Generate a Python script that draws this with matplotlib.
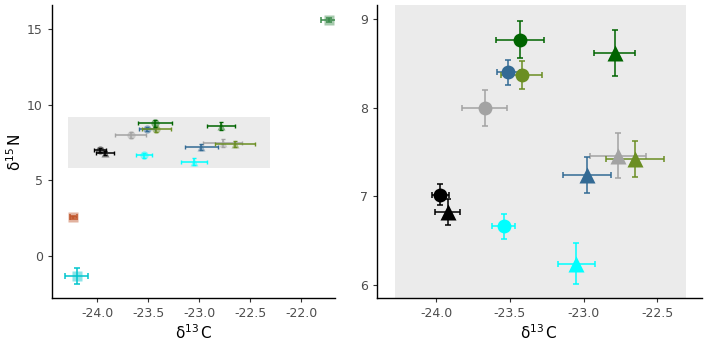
import matplotlib.pyplot as plt
from matplotlib.patches import Rectangle

# grupos de consumidores (circulo / triangulo)
grupos = ['negro_c', 'negro_t', 'cian_c', 'cian_t', 'gris_c', 'gris_t',
          'azul_c', 'azul_t', 'oliva_c', 'oliva_t', 'verde_c', 'verde_t']
colores = ['black', 'black', '#00FFFF', '#00FFFF', '#A3A3A3', '#A3A3A3',
           '#336A94', '#336A94', '#6B8E23', '#6B8E23', '#006400', '#006400']
marcas = ['o', '^', 'o', '^', 'o', '^', 'o', '^', 'o', '^', 'o', '^']
d13c = [-23.97, -23.92, -23.54, -23.05, -23.67, -22.77,
        -23.51, -22.98, -23.42, -22.65, -23.43, -22.79]
d15n = [7.02, 6.82, 6.66, 6.24, 8.00, 7.46,
        8.40, 7.24, 8.37, 7.42, 8.77, 8.62]
err_c = [0.056, 0.085, 0.078, 0.124, 0.153, 0.19,
         0.08, 0.162, 0.14, 0.196, 0.164, 0.137]
err_n = [0.12, 0.145, 0.145, 0.23, 0.20, 0.25,
         0.143, 0.20, 0.156, 0.205, 0.21, 0.26]

# fuentes (cuadrados)
fuentes = ['detrito', 'plancton', 'pez']
col_fuentes = ['#C0552A', '#00C5CD', '#3A8A4A']
f_d13c = [-24.23, -24.20, -21.73]
f_d15n = [2.56, -1.32, 15.61]
f_err_c = [0.03, 0.115, 0.08]
f_err_n = [0.08, 0.55, 0.12]

plt.rcParams['font.family'] = 'DejaVu Sans'
fig = plt.figure(figsize=(7.06, 3.45), dpi=100)
ax1 = fig.add_axes([0.0737, 0.136, 0.401, 0.849])
ax2 = fig.add_axes([0.534, 0.136, 0.460, 0.849])

# zona ampliada
x0, x1, y0, y1 = -24.28, -22.31, 5.8, 9.2
ax1.add_patch(Rectangle((x0, y0), x1 - x0, y1 - y0, color='#EBEBEB', zorder=0, lw=0))
ax2.add_patch(Rectangle((x0, y0), x1 - x0, y1 - y0, color='#EBEBEB', zorder=0, lw=0))

for i in range(len(fuentes)):
    ax1.errorbar(f_d13c[i], f_d15n[i], xerr=f_err_c[i], yerr=f_err_n[i],
                 color=col_fuentes[i], capsize=2, elinewidth=1.1, capthick=1.1,
                 fmt='none', zorder=3)
    ax1.plot(f_d13c[i], f_d15n[i], marker='s', ms=7.5, color=col_fuentes[i],
             alpha=0.45, mec='none', zorder=2)

for i in range(len(grupos)):
    ax1.errorbar(d13c[i], d15n[i], xerr=err_c[i], yerr=err_n[i],
                 color=colores[i], capsize=1.5, elinewidth=1.1, capthick=1,
                 fmt='none', zorder=3)
    ax1.plot(d13c[i], d15n[i], marker=marcas[i], ms=6, color=colores[i],
             alpha=0.45, mec='none', zorder=2)
    ax2.errorbar(d13c[i], d15n[i], xerr=err_c[i], yerr=err_n[i],
                 color=colores[i], capsize=2.5, elinewidth=1.1, capthick=1.1,
                 fmt='none', zorder=3)
    ax2.plot(d13c[i], d15n[i], marker=marcas[i], ms=10 if marcas[i] == 'o' else 11,
             color=colores[i], mec='none', zorder=4)

ax1.set_xlim(-24.44, -21.67)
ax1.set_ylim(-2.78, 16.59)
ax1.set_xticks([-24.0, -23.5, -23.0, -22.5, -22.0])
ax1.set_yticks([0, 5, 10, 15])
ax2.set_xlim(-24.40, -22.20)
ax2.set_ylim(5.85, 9.16)
ax2.set_xticks([-24.0, -23.5, -23.0, -22.5])
ax2.set_yticks([6, 7, 8, 9])

for ax in (ax1, ax2):
    ax.spines['top'].set_visible(False)
    ax.spines['right'].set_visible(False)
    ax.spines['left'].set_linewidth(1.0)
    ax.spines['bottom'].set_linewidth(1.0)
    ax.tick_params(colors='#333333', labelcolor='#4D4D4D', labelsize=9,
                   length=3, width=0.8)
    ax.set_xticklabels(['{:.1f}'.format(t) for t in ax.get_xticks()])
    ax.set_xlabel(r'$\mathregular{\delta^{13}\,C}$', fontsize=11, labelpad=2)

ax1.set_ylabel(r'$\mathregular{\delta^{15}\,N}$', fontsize=11, labelpad=2)

fig.savefig('out.png', dpi=100)
